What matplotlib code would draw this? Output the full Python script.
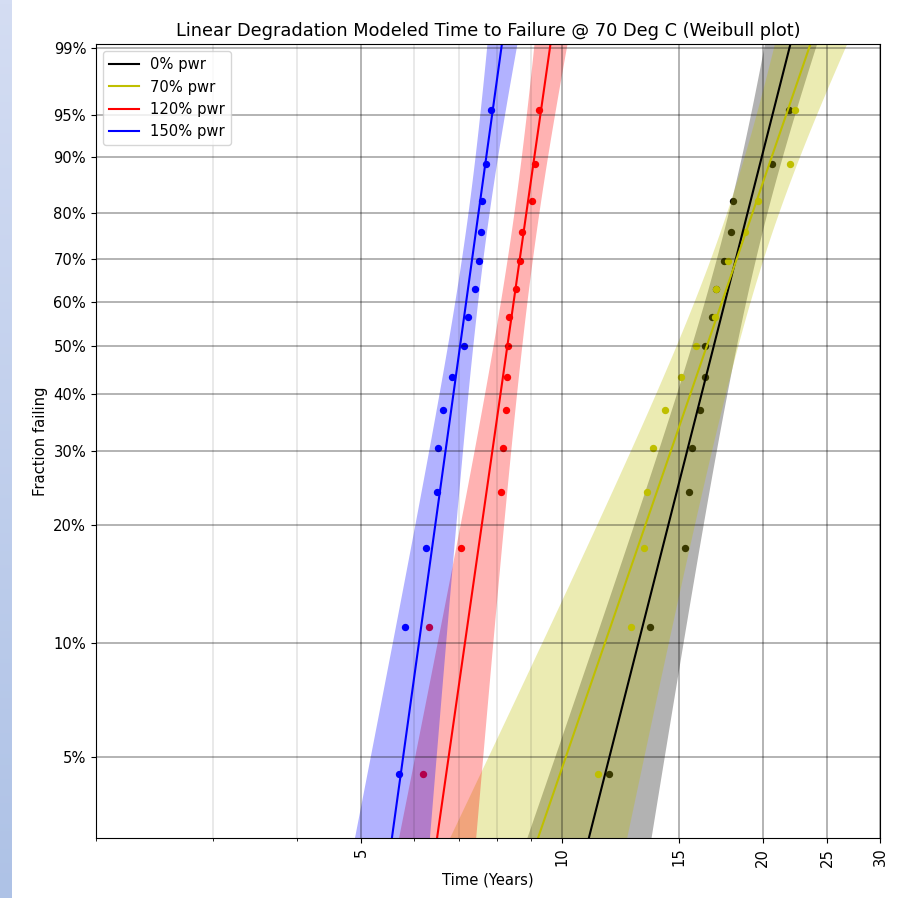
import numpy as np
import matplotlib
matplotlib.use("Agg")
import matplotlib.pyplot as plt
from matplotlib.ticker import NullFormatter, NullLocator

plt.rcParams["font.size"] = 10.6
plt.rcParams["axes.titlesize"] = 12.75

# Median-rank plotting positions (%) shared by every power level
rank_pct = [4.5, 11.0, 17.5, 24.0, 30.5, 37.0, 43.5, 50.0, 56.5, 63.0, 69.5, 76.0, 82.5, 89.0, 95.5]

labels = ["0% pwr", "70% pwr", "120% pwr", "150% pwr"]
colors = ["k", "y", "r", "b"]

# Sorted modeled failure times (years)
t_pwr0 = [11.76, 13.57, 15.32, 15.50, 15.67, 16.13, 16.37, 16.40, 16.80, 17.01,
          17.49, 17.92, 18.08, 20.68, 21.90]
t_pwr70 = [11.34, 12.69, 13.29, 13.43, 13.69, 14.26, 15.09, 15.89, 16.99, 17.05,
           17.75, 18.85, 19.71, 22.02, 22.40]
t_pwr120 = [6.19, 6.31, 7.06, 8.09, 8.15, 8.24, 8.28, 8.31, 8.34, 8.53,
            8.64, 8.71, 9.03, 9.10, 9.23]
t_pwr150 = [5.69, 5.81, 6.26, 6.50, 6.52, 6.62, 6.84, 7.13, 7.24, 7.40,
            7.51, 7.56, 7.58, 7.68, 7.84]
times = [t_pwr0, t_pwr70, t_pwr120, t_pwr150]

# Fitted Weibull shape (beta) and scale (eta, years)
beta = [7.23, 5.35, 12.85, 13.25]
eta = [17.77, 17.66, 8.52, 7.23]

# Confidence band half-width in log10(time): narrowest value, growth per
# unit of ln(-ln(1-F)), and the ln(-ln(1-F)) level where it is narrowest
band_min = [0.0290, 0.0390, 0.0187, 0.0158]
band_growth = [0.0228, 0.0327, 0.0141, 0.0139]
band_center = 0.4

ytick_pct = [5, 10, 20, 30, 40, 50, 60, 70, 80, 90, 95, 99]
xtick_vals = [5, 10, 15, 20, 25, 30]
x_range = (2, 30)
y_range = (0.0302, 0.991)


def weibull_fwd(F):
    F = np.clip(np.asarray(F, dtype=float), 1e-12, 1 - 1e-12)
    return np.log(-np.log(1 - F))


def weibull_inv(w):
    return 1 - np.exp(-np.exp(np.asarray(w, dtype=float)))


fig = plt.figure(figsize=(9.15, 8.98), dpi=100)

# window frame along the left edge
strip = fig.add_axes([0, 0, 12 / 915, 1])
strip.imshow(np.linspace(0, 1, 256)[:, None], aspect="auto",
             cmap=matplotlib.colors.LinearSegmentedColormap.from_list(
                 "frame", ["#d4ddf3", "#aec2e6"]))
strip.set_axis_off()

ax = fig.add_axes([96 / 915, 1 - 838 / 898, 784 / 915, 794 / 898])
ax.set_xscale("log")
ax.set_yscale("function", functions=(weibull_fwd, weibull_inv))

w_grid = np.linspace(weibull_fwd(y_range[0]), weibull_fwd(y_range[1]), 400)
F_grid = weibull_inv(w_grid)

for i in range(len(labels)):
    c = colors[i]
    ax.scatter(times[i], np.array(rank_pct) / 100, s=28, color=c, linewidths=0)
    center = eta[i] * np.exp(w_grid / beta[i])
    ax.plot(center, F_grid, color=c, lw=1.5, label=labels[i])
    half = np.sqrt(band_min[i] ** 2 + (band_growth[i] * (w_grid - band_center)) ** 2)
    ax.fill_betweenx(F_grid, center / 10 ** half, center * 10 ** half,
                     color=c, alpha=0.3, lw=0)

ax.set_xlim(*x_range)
ax.set_ylim(*y_range)

ax.set_xticks(xtick_vals)
ax.set_xticklabels([str(v) for v in xtick_vals], rotation=90)
ax.xaxis.set_minor_formatter(NullFormatter())
ax.set_yticks([p / 100 for p in ytick_pct])
ax.set_yticklabels([f"{p}%" for p in ytick_pct])
ax.yaxis.set_minor_locator(NullLocator())

ax.grid(which="major", color="k", alpha=0.35, lw=1.2)
ax.grid(which="minor", axis="x", color="k", alpha=0.1, lw=1.2)

ax.set_xlabel("Time (Years)")
ax.set_ylabel("Fraction failing")
ax.set_title("Linear Degradation Modeled Time to Failure @ 70 Deg C (Weibull plot)")
ax.legend(loc="upper left")

fig.savefig("out.png", dpi=100)
